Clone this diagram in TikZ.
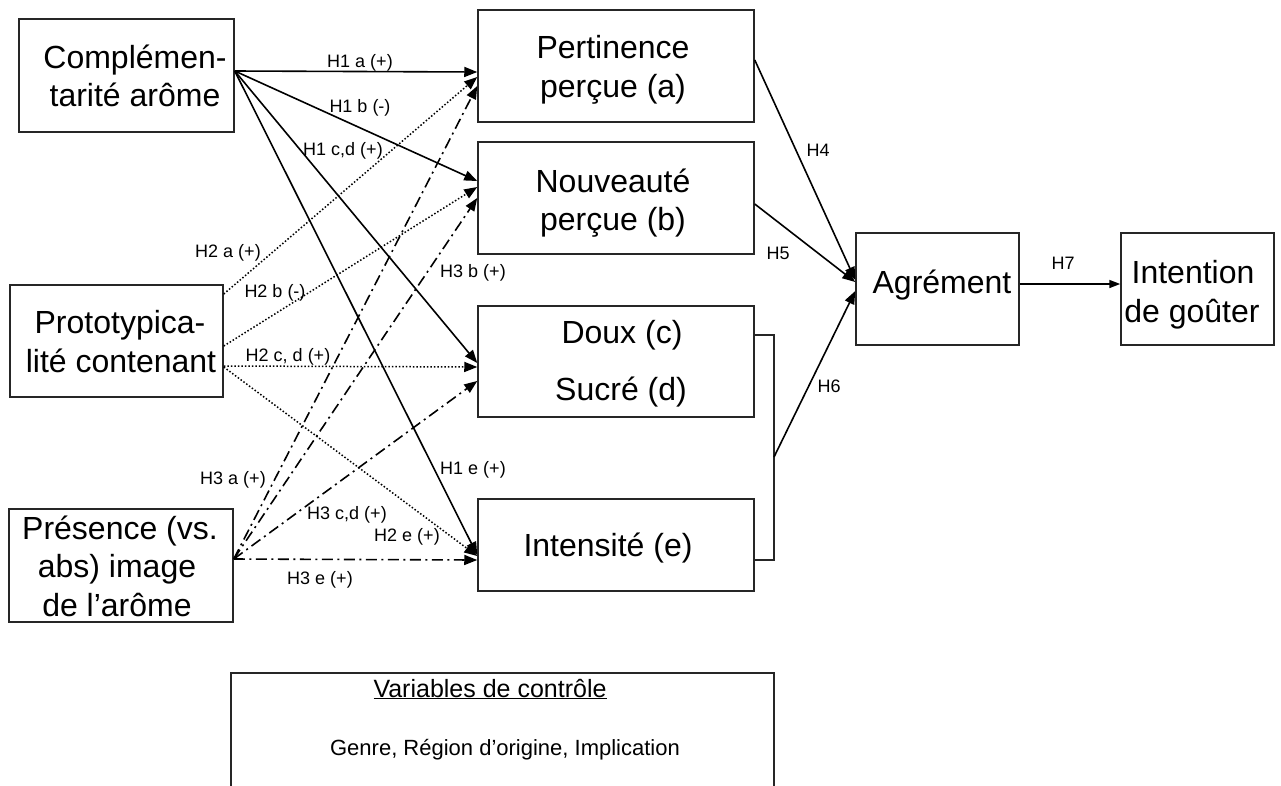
\documentclass[tikz,border=0pt]{standalone}
\usepackage{fontspec}
\setmainfont{Liberation Sans}
\usetikzlibrary{arrows.meta}
\begin{document}
\begin{tikzpicture}[x=1pt,y=-1pt,
 box/.style={draw=black!85, line width=1.5pt, inner sep=0pt, rectangle},
 big/.style={font=\fontsize{32}{38}\selectfont, inner sep=0pt, anchor=base},
 mid/.style={font=\fontsize{22}{26}\selectfont, inner sep=0pt, anchor=base},
 lbl/.style={font=\fontsize{18}{21}\selectfont, inner sep=0pt},
 hyp/.style={line width=1.6pt, -{Triangle[length=13pt,width=10pt]}},
 dotl/.style={hyp, line width=1.5pt, dash pattern=on 1.5pt off 2pt},
 dashdot/.style={hyp, dash pattern=on 11pt off 4.5pt on 2pt off 4.5pt},
]
\useasboundingbox (0,0) rectangle (1281,785);
% boxes
\node[box, minimum width=215pt, minimum height=113pt] (comp) at (126.5,75.5) {};
\node[box, minimum width=213pt, minimum height=112pt] (proto) at (116.5,341) {};
\node[box, minimum width=224pt, minimum height=113pt] (pres) at (121,565.5) {};
\node[box, minimum width=276pt, minimum height=112pt] (pert) at (616,66) {};
\node[box, minimum width=276pt, minimum height=112pt] (nouv) at (616,198) {};
\node[box, minimum width=276pt, minimum height=111pt] (doux) at (616,361.5) {};
\node[box, minimum width=276pt, minimum height=92pt] (inten) at (616,545) {};
\node[box, minimum width=163pt, minimum height=112pt] (agr) at (937.5,289) {};
\node[box, minimum width=153pt, minimum height=112pt] (intent) at (1197.5,289) {};
\node[box, minimum width=543pt, minimum height=134pt] (ctrl) at (502.5,740) {};
% box texts
\node[big] (compa) at (135,68) {Complémen-};
\node[big] (compb) at (135,106) {tarité arôme};
\node[big] (protoa) at (120,333) {Prototypica-};
\node[big] (protob) at (121,372) {lité contenant};
\node[big] (presa) at (120,539) {Présence (vs.};
\node[big] (presb) at (117,577) {abs) image};
\node[big] (presc) at (117,616) {de l’arôme};
\node[big] (perta) at (613,58) {Pertinence};
\node[big] (pertb) at (613,97) {perçue (a)};
\node[big] (nouva) at (613,192) {Nouveauté};
\node[big] (nouvb) at (613,230) {perçue (b)};
\node[big] (douxa) at (622,343) {Doux (c)};
\node[big] (douxb) at (621,400) {Sucré (d)};
\node[big] (intena) at (608,556) {Intensité (e)};
\node[big] (agra) at (942,293) {Agrément};
\node[big] (intenta) at (1193,283) {Intention};
\node[big] (intentb) at (1192,322) {de goûter};
\node[mid, font=\fontsize{25}{28}\selectfont] (ctrla) at (490,697) {\underline{Variables de contrôle}};
\node[mid] (ctrlb) at (505,755) {Genre, Région d’origine, Implication};
% H1 (solid)
\draw[hyp] ([yshift=4.5pt]comp.east) -- ([yshift=-6pt]pert.west);
\draw[hyp] ([yshift=4.5pt]comp.east) -- ([yshift=17pt]nouv.west);
\draw[hyp] ([yshift=4.5pt]comp.east) -- ([yshift=-1.5pt]doux.west);
\draw[hyp] ([yshift=4.5pt]comp.east) -- ([yshift=-10pt]inten.west);
% H2 (dotted)
\draw[dotl] ([yshift=47pt]proto.east) -- ([yshift=-11pt]pert.west);
\draw[dotl] ([yshift=-5pt]proto.east) -- ([yshift=11pt]nouv.west);
\draw[dotl] ([yshift=-25pt]proto.east) -- ([yshift=-5.5pt]doux.west);
\draw[dotl] ([yshift=-26pt]proto.east) -- ([yshift=-11pt]inten.west);
% H3 (dash-dot)
\draw[dashdot] ([yshift=6.5pt]pres.east) -- ([yshift=-20pt]pert.west);
\draw[dashdot] ([yshift=6.5pt]pres.east) -- ([yshift=0pt]nouv.west);
\draw[dashdot] ([yshift=6.5pt]pres.east) -- ([yshift=-19.5pt]doux.west);
\draw[dashdot] ([yshift=6.5pt]pres.east) -- ([yshift=-15pt]inten.west);
% right side
\draw[hyp] ([yshift=6pt]pert.east) -- ([yshift=9pt]agr.west);
\draw[hyp] ([yshift=-6pt]nouv.east) -- ([yshift=7pt]agr.west);
\coordinate (h6) at (774,457);
\draw[line width=1.5pt, draw=black!85] ([yshift=26.5pt]doux.east) -| (h6) |- ([yshift=-15pt]inten.east);
\draw[hyp] (h6) -- ([yshift=-2pt]agr.west);
\draw[line width=1.6pt, -{Triangle[length=11pt,width=8pt]}] ([yshift=5pt]agr.east) -- ([yshift=5pt]intent.west);
% labels
\node[lbl] (l1a) at (360,63) {H1 a (+)};
\node[lbl] (l1b) at (360,108) {H1 b (-)};
\node[lbl] (l1c) at (343,151) {H1 c,d (+)};
\node[lbl] (l2a) at (228,253) {H2 a (+)};
\node[lbl] (l3b) at (473,273) {H3 b (+)};
\node[lbl] (l2b) at (275,293) {H2 b (-)};
\node[lbl] (l2c) at (288,357) {H2 c, d (+)};
\node[lbl] (l3a) at (233,480) {H3 a (+)};
\node[lbl] (l1e) at (473,470) {H1 e (+)};
\node[lbl] (l3c) at (347,515) {H3 c,d (+)};
\node[lbl] (l2e) at (407,537) {H2 e (+)};
\node[lbl] (l3e) at (320,580) {H3 e (+)};
\node[lbl] (l4) at (818,150) {H4};
\node[lbl] (l5) at (778,253) {H5};
\node[lbl] (l6) at (829,386) {H6};
\node[lbl] (l7) at (1063,263) {H7};
\end{tikzpicture}
\end{document}
